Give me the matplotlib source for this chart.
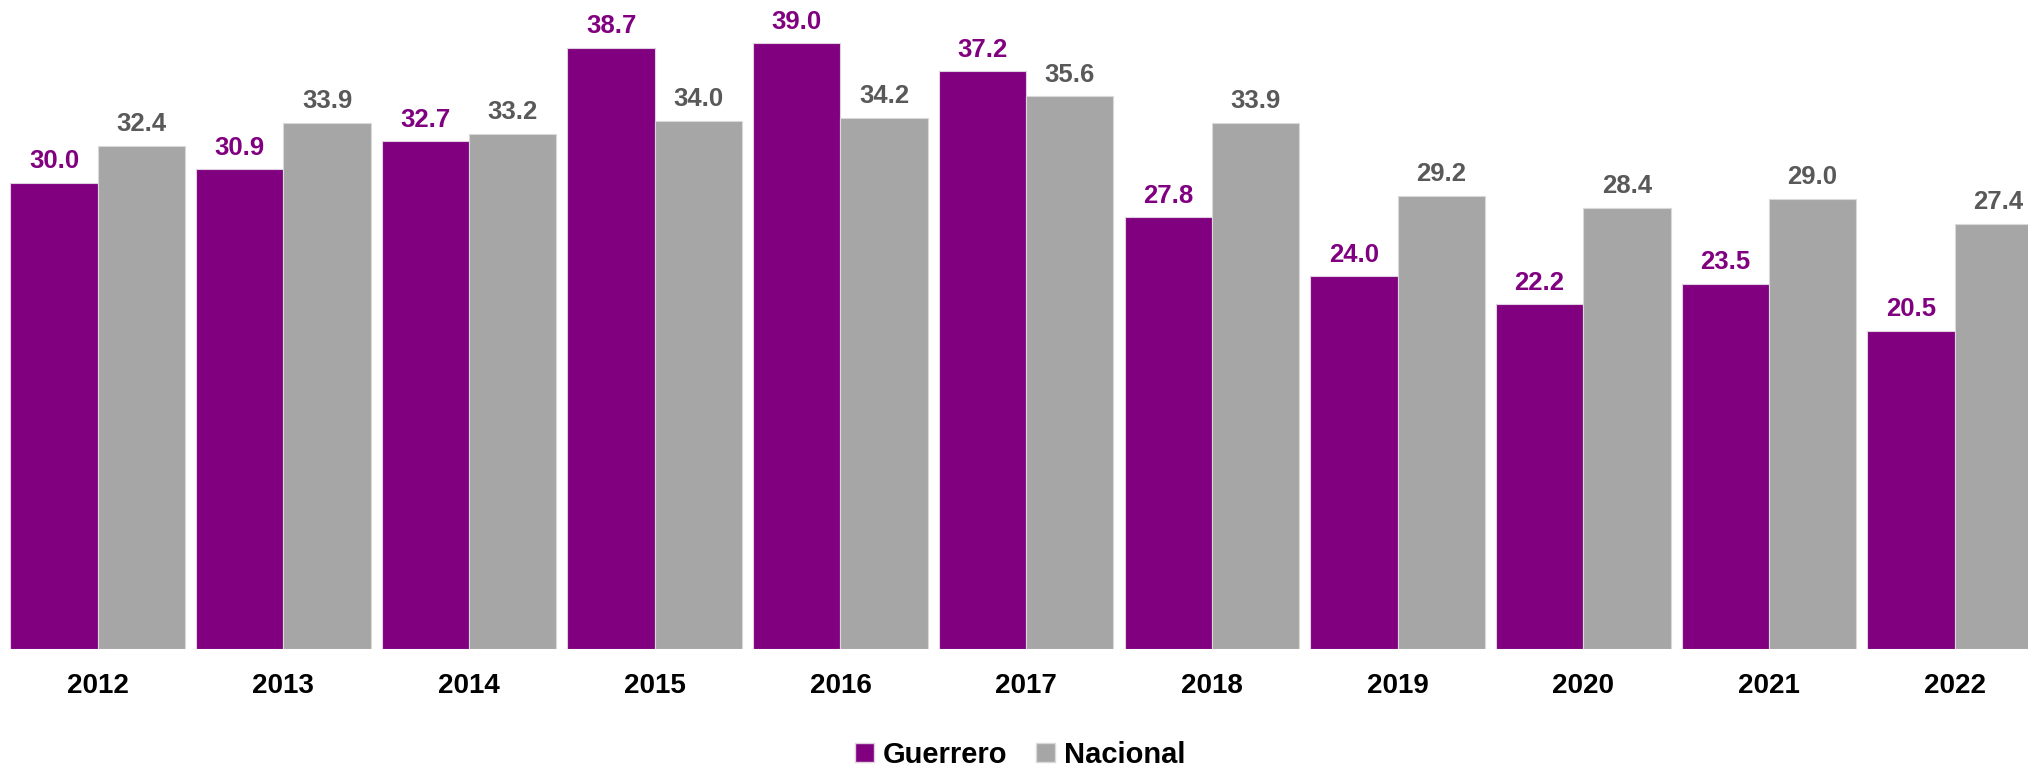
import matplotlib.pyplot as plt
from matplotlib.patches import Patch
import numpy as np

years = ["2012", "2013", "2014", "2015", "2016", "2017", "2018", "2019", "2020", "2021", "2022"]
guerrero = [30.0, 30.9, 32.7, 38.7, 39.0, 37.2, 27.8, 24.0, 22.2, 23.5, 20.5]
nacional = [32.4, 33.9, 33.2, 34.0, 34.2, 35.6, 33.9, 29.2, 28.4, 29.0, 27.4]

PURPLE = "#800080"
GRAY = "#a6a6a6"
GRAY_TXT = "#595959"

plt.rcParams["font.family"] = ["Liberation Sans", "DejaVu Sans"]
plt.rcParams["font.weight"] = "bold"

fig = plt.figure(figsize=(20.28, 7.64), dpi=100)
ax = fig.add_axes([0, 0.1505, 1, 0.8495])

x = np.arange(len(years))
w = 0.47

b1 = ax.bar(x - w / 2, guerrero, w, color=PURPLE, edgecolor="#e0d0e0", linewidth=0.8)
b2 = ax.bar(x + w / 2, nacional, w, color=GRAY, edgecolor="#d9d9d9", linewidth=0.8)

# value labels above each bar
for rect, v in zip(b1, guerrero):
    ax.annotate(f"{v:.1f}", xy=(rect.get_x() + rect.get_width() / 2, v),
                xytext=(0, 7), textcoords="offset points", ha="center", va="bottom",
                fontsize=18.5, fontweight="bold", color=PURPLE, annotation_clip=False)
for rect, v in zip(b2, nacional):
    ax.annotate(f"{v:.1f}", xy=(rect.get_x() + rect.get_width() / 2, v),
                xytext=(0, 7), textcoords="offset points", ha="center", va="bottom",
                fontsize=18.5, fontweight="bold", color=GRAY_TXT, annotation_clip=False)

ax.set_xlim(-0.526, 10.395)
ax.set_ylim(0, 41.8)
ax.set_xticks(x)
ax.set_xticklabels(years, fontsize=20, fontweight="bold")
ax.tick_params(axis="x", length=0, pad=17)
ax.set_yticks([])
for s in ax.spines.values():
    s.set_visible(False)

handles = [Patch(facecolor=PURPLE, edgecolor="#e0d0e0", label="Guerrero"),
           Patch(facecolor=GRAY, edgecolor="#d9d9d9", label="Nacional")]
fig.legend(handles=handles, loc="center", bbox_to_anchor=(0.503, 0.012), ncol=2,
           frameon=False, handlelength=0.65, handleheight=0.65,
           handletextpad=0.3, columnspacing=1.0, prop={"weight": "bold", "size": 21})

fig.savefig("out.png", dpi=100)
